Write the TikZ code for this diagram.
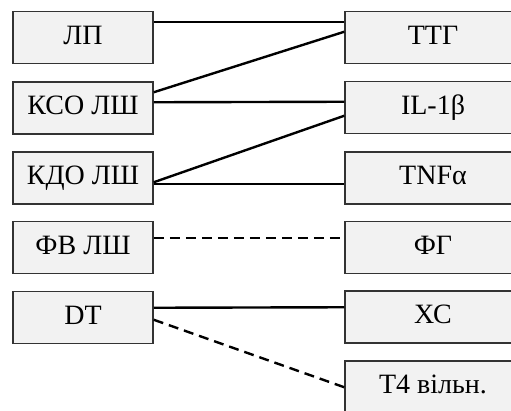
\documentclass[tikz,border=0pt]{standalone}
\usepackage{fontspec}
\setmainfont{Liberation Serif}
\definecolor{boxfill}{HTML}{F2F2F2}
\definecolor{boxline}{HTML}{333333}
\begin{document}
\begin{tikzpicture}[x=1pt,y=-1pt,
  box/.style={draw=boxline, line width=1.5pt, fill=boxfill, minimum height=52pt,
    inner sep=0pt, text height=19pt, text depth=6pt, font=\fontsize{28}{30}\selectfont},
  lbox/.style={box, minimum width=140pt},
  rbox/.style={box, minimum width=176pt},
  link/.style={line width=2.4pt, black},
  dlink/.style={link, dash pattern=on 10pt off 6pt}]
\useasboundingbox (0,0) rectangle (511,410);
\clip (0,0) rectangle (511,410);
\node[lbox] (lp)  at (83,37.5)  {ЛП};
\node[lbox] (kso) at (83,108)   {КСО ЛШ};
\node[lbox] (kdo) at (83,178)   {КДО ЛШ};
\node[lbox] (fv)  at (83,247.5) {ФВ ЛШ};
\node[lbox] (dt)  at (83,317.5) {DT};
\node[rbox] (ttg) at (433,37.5) {ТТГ};
\node[rbox] (il)  at (433,107.5) {IL-1β};
\node[rbox] (tnf) at (433,178)  {TNFα};
\node[rbox] (fg)  at (433,247.5) {ФГ};
\node[rbox] (xc)  at (433,317)  {ХС};
\node[rbox] (t4)  at (433,387)  {Т4 вільн.};
\draw[link] ([yshift=-11pt]lp.north east) -- ([yshift=-11pt]ttg.north west);
\draw[link] ([yshift=-11pt]kso.north east) -- ([yshift=-21pt]ttg.north west);
\draw[link] ([yshift=-21pt]kso.north east) -- ([yshift=-21pt]il.north west);
\draw[link] ([yshift=-31pt]kdo.north east) -- ([yshift=-35pt]il.north west);
\draw[link] ([yshift=-33pt]kdo.north east) -- ([yshift=-33pt]tnf.north west);
\draw[dlink] ([yshift=-17pt]fv.north east) -- ([yshift=-17pt]fg.north west);
\draw[link] ([yshift=-17pt]dt.north east) -- ([yshift=-17pt]xc.north west);
\draw[dlink] ([yshift=-29pt]dt.north east) -- ([yshift=-27pt]t4.north west);
\end{tikzpicture}
\end{document}
